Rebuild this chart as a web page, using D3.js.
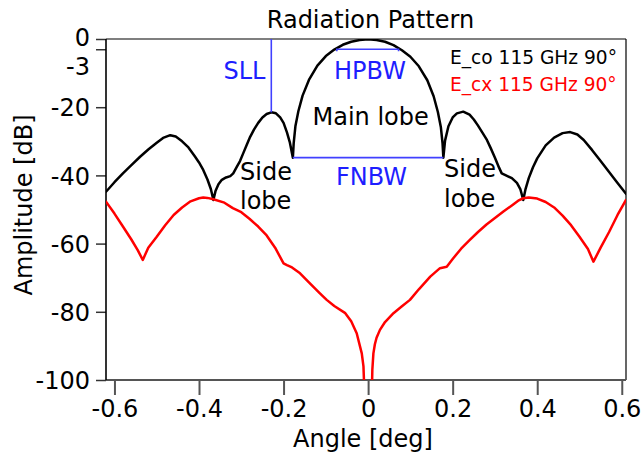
<!DOCTYPE html>
<html>
<head>
<meta charset="utf-8">
<script src="https://cdn.jsdelivr.net/npm/d3@7"></script>
<style>
  html, body { margin: 0; padding: 0; background: #fff; }
  svg { display: block; font-family: "DejaVu Sans", Verdana, sans-serif; }
</style>
</head>
<body>
<svg id="chart" width="642" height="460"></svg>
<script>
// ---------------- data ----------------
const title = "Radiation Pattern";
const xLabel = "Angle [deg]";
const yLabel = "Amplitude [dB]";
const xTicks = [-0.6, -0.4, -0.2, 0, 0.2, 0.4, 0.6];
const yTicks = [0, -3, -20, -40, -60, -80, -100];
const seriesNames = ["E_co 115 GHz 90°", "E_cx 115 GHz 90°"];
const seriesColors = ["#000000", "#ff0000"];

const coAngle = [-0.620,-0.600,-0.580,-0.560,-0.540,-0.520,-0.500,-0.485,-0.468,-0.455,-0.440,-0.425,-0.410,-0.400,-0.390,-0.380,-0.372,-0.366,-0.361,-0.354,-0.346,-0.336,-0.326,-0.319,-0.311,-0.303,-0.295,-0.287,-0.279,-0.270,-0.260,-0.250,-0.240,-0.229,-0.218,-0.208,-0.200,-0.192,-0.185,-0.178,-0.176,-0.172,-0.165,-0.155,-0.140,-0.120,-0.100,-0.080,-0.060,-0.040,-0.020,0.000,0.020,0.040,0.060,0.080,0.100,0.120,0.140,0.155,0.165,0.172,0.176,0.178,0.182,0.190,0.200,0.210,0.225,0.240,0.250,0.260,0.270,0.281,0.290,0.300,0.310,0.316,0.326,0.340,0.352,0.360,0.367,0.372,0.380,0.390,0.400,0.420,0.440,0.460,0.478,0.495,0.510,0.530,0.550,0.570,0.590,0.610];
const coDb = [-44.8,-42.0,-39.4,-37.0,-34.6,-32.4,-30.4,-29.0,-28.2,-28.6,-30.0,-31.8,-34.4,-36.2,-38.4,-41.2,-44.0,-47.2,-44.6,-42.6,-41.3,-40.6,-40.2,-39.4,-37.6,-35.8,-33.4,-31.0,-28.7,-26.6,-24.6,-23.0,-22.0,-21.5,-21.8,-23.0,-24.6,-27.4,-30.4,-34.8,-30.5,-25.6,-21.2,-16.6,-12.0,-7.8,-5.0,-3.1,-1.7,-0.8,-0.3,-0.1,-0.3,-0.8,-1.8,-3.3,-5.2,-8.0,-12.1,-16.8,-21.4,-25.8,-30.5,-34.8,-29.8,-25.6,-23.0,-21.8,-21.3,-22.2,-23.6,-25.4,-27.4,-29.6,-32.0,-34.8,-37.8,-39.4,-40.0,-40.8,-42.2,-44.0,-47.2,-44.2,-40.8,-37.6,-35.0,-31.2,-28.9,-27.6,-27.3,-28.0,-29.6,-32.6,-35.8,-39.0,-42.2,-45.4];

const cxAngle = [-0.620,-0.600,-0.580,-0.560,-0.545,-0.533,-0.520,-0.500,-0.480,-0.460,-0.440,-0.420,-0.400,-0.390,-0.380,-0.366,-0.340,-0.320,-0.300,-0.280,-0.260,-0.240,-0.220,-0.200,-0.192,-0.180,-0.161,-0.140,-0.114,-0.098,-0.080,-0.054,-0.040,-0.027,-0.015,-0.011,-0.009,0.009,0.010,0.0125,0.016,0.020,0.028,0.040,0.060,0.080,0.099,0.120,0.147,0.170,0.186,0.200,0.220,0.240,0.260,0.280,0.300,0.320,0.340,0.355,0.367,0.380,0.400,0.420,0.440,0.460,0.480,0.500,0.520,0.533,0.550,0.570,0.590,0.610];
const cxDb = [-47.7,-51.2,-55.0,-58.8,-61.9,-64.8,-61.2,-58.0,-54.6,-51.6,-49.4,-47.6,-46.7,-46.5,-46.6,-47.0,-48.0,-49.6,-50.8,-52.8,-55.0,-57.6,-61.2,-65.8,-66.3,-67.0,-68.7,-71.4,-74.6,-76.5,-78.3,-80.4,-82.8,-86.3,-92.2,-96.0,-103,-103,-97.0,-92.2,-89.5,-87.6,-85.3,-83.0,-80.4,-78.4,-76.5,-73.4,-69.7,-67.2,-66.8,-64.5,-61.5,-59.0,-56.6,-54.4,-52.5,-50.6,-48.8,-47.4,-46.7,-46.5,-46.8,-47.8,-49.4,-51.8,-54.6,-58.0,-61.6,-65.3,-61.2,-56.6,-51.6,-47.2];

// annotation values (data units)
const sllAngle = -0.229, sllTop = 0, sllLevel = -21.5;
const hpbwRange = [-0.074, 0.072], hpbwLevel = -3;
const fnbwRange = [-0.178, 0.178], fnbwLevel = -34.8;

// ---------------- layout ----------------
const svg = d3.select("#chart");
const W = 642, H = 460;
const plot = { left: 106, right: 626, top: 39, bottom: 380 };
const font = "DejaVu Sans, Verdana, sans-serif";
const blue = "#1e1eff";

svg.append("rect").attr("width", W).attr("height", H).attr("fill", "#fff");

const x = d3.scaleLinear().domain([-0.62, 0.61]).range([plot.left, plot.right]);
const y = d3.scaleLinear().domain([-100, 0]).range([plot.bottom, plot.top]);

svg.append("clipPath").attr("id", "clip")
  .append("rect").attr("x", plot.left).attr("y", plot.top)
  .attr("width", plot.right - plot.left).attr("height", plot.bottom - plot.top);

// title
svg.append("text").attr("x", 370.5).attr("y", 28).attr("text-anchor", "middle")
  .attr("font-size", 24).attr("fill", "#000").text(title);

// left axis
const gy = svg.append("g").attr("transform", `translate(${plot.left},0)`)
  .call(d3.axisLeft(y).tickValues(yTicks).tickSize(10).tickPadding(6).tickFormat(d => String(d)));
gy.select(".domain").remove();
gy.selectAll(".tick line").attr("stroke", "#333").attr("stroke-width", 1.5);
gy.selectAll(".tick text").attr("font-size", 24).attr("font-family", font).attr("fill", "#000")
  .attr("dy", d => d === -3 ? "1.07em" : (d === 0 ? "0.29em" : "0.36em"));

// bottom axis
const gx = svg.append("g").attr("transform", `translate(0,${plot.bottom})`)
  .call(d3.axisBottom(x).tickValues(xTicks).tickSize(15).tickPadding(5).tickFormat(d => d === 0 ? "0" : d.toFixed(1)));
gx.select(".domain").remove();
gx.selectAll(".tick line").attr("stroke", "#555").attr("stroke-width", 2);
gx.selectAll(".tick text").attr("font-size", 24).attr("font-family", font).attr("fill", "#000");

// frame
svg.append("line").attr("x1", plot.left).attr("x2", plot.right).attr("y1", plot.top).attr("y2", plot.top)
  .attr("stroke", "#000").attr("stroke-width", 1.2);
svg.append("line").attr("x1", plot.right).attr("x2", plot.right).attr("y1", plot.top).attr("y2", plot.bottom)
  .attr("stroke", "#000").attr("stroke-width", 1.2);
svg.append("line").attr("x1", plot.left).attr("x2", plot.right).attr("y1", plot.bottom).attr("y2", plot.bottom)
  .attr("stroke", "#555").attr("stroke-width", 1.8);
svg.append("line").attr("x1", plot.left).attr("x2", plot.left).attr("y1", plot.top).attr("y2", plot.bottom)
  .attr("stroke", "#000").attr("stroke-width", 1.6);

// axis labels
svg.append("text").attr("x", 363).attr("y", 447).attr("text-anchor", "middle")
  .attr("font-size", 24).attr("fill", "#000").text(xLabel);
svg.append("text").attr("transform", "translate(32,205) rotate(-90)").attr("text-anchor", "middle")
  .attr("font-size", 24).attr("fill", "#000").text(yLabel);

// series
const line = d3.line().x(d => x(d[0])).y(d => y(d[1])).curve(d3.curveLinear);
const series = [d3.zip(coAngle, coDb), d3.zip(cxAngle, cxDb)];
const gPlot = svg.append("g").attr("clip-path", "url(#clip)");
gPlot.selectAll("path.series").data(series).join("path").attr("class", "series")
  .attr("d", line).attr("fill", "none")
  .attr("stroke", (d, i) => seriesColors[i]).attr("stroke-width", 2.5)
  .attr("stroke-linejoin", "round").attr("stroke-linecap", "round");

// annotation lines
const ann = svg.append("g").attr("stroke", "#4040ff").attr("stroke-width", 1.6).attr("fill", "none");
ann.append("line").attr("x1", x(sllAngle)).attr("x2", x(sllAngle)).attr("y1", y(sllTop)).attr("y2", y(sllLevel));
ann.append("path").attr("d",
  `M${x(hpbwRange[0])},${y(hpbwLevel) + 2}V${y(hpbwLevel)}H${x(hpbwRange[1])}V${y(hpbwLevel) + 2}`);
ann.append("line").attr("x1", x(fnbwRange[0])).attr("x2", x(fnbwRange[1])).attr("y1", y(fnbwLevel)).attr("y2", y(fnbwLevel));

// annotation texts
const texts = [
  { t: "SLL", x: 223.5, y: 79, c: blue },
  { t: "HPBW", x: 334, y: 78.5, c: blue },
  { t: "Main lobe", x: 312.5, y: 125, c: "#000" },
  { t: "FNBW", x: 336, y: 184.5, c: blue },
  { t: "Side", x: 240, y: 180, c: "#000" },
  { t: "lobe", x: 240, y: 209, c: "#000" },
  { t: "Side", x: 444, y: 177, c: "#000" },
  { t: "lobe", x: 444, y: 206.5, c: "#000" }
];
svg.append("g").selectAll("text").data(texts).join("text")
  .attr("x", d => d.x).attr("y", d => d.y).attr("font-size", 24)
  .attr("fill", d => d.c).text(d => d.t);

// legend
svg.append("g").selectAll("text").data(seriesNames).join("text")
  .attr("x", 450).attr("y", (d, i) => 64 + i * 26.7).attr("font-size", 18.6)
  .attr("fill", (d, i) => seriesColors[i]).text(d => d);
</script>
</body>
</html>
